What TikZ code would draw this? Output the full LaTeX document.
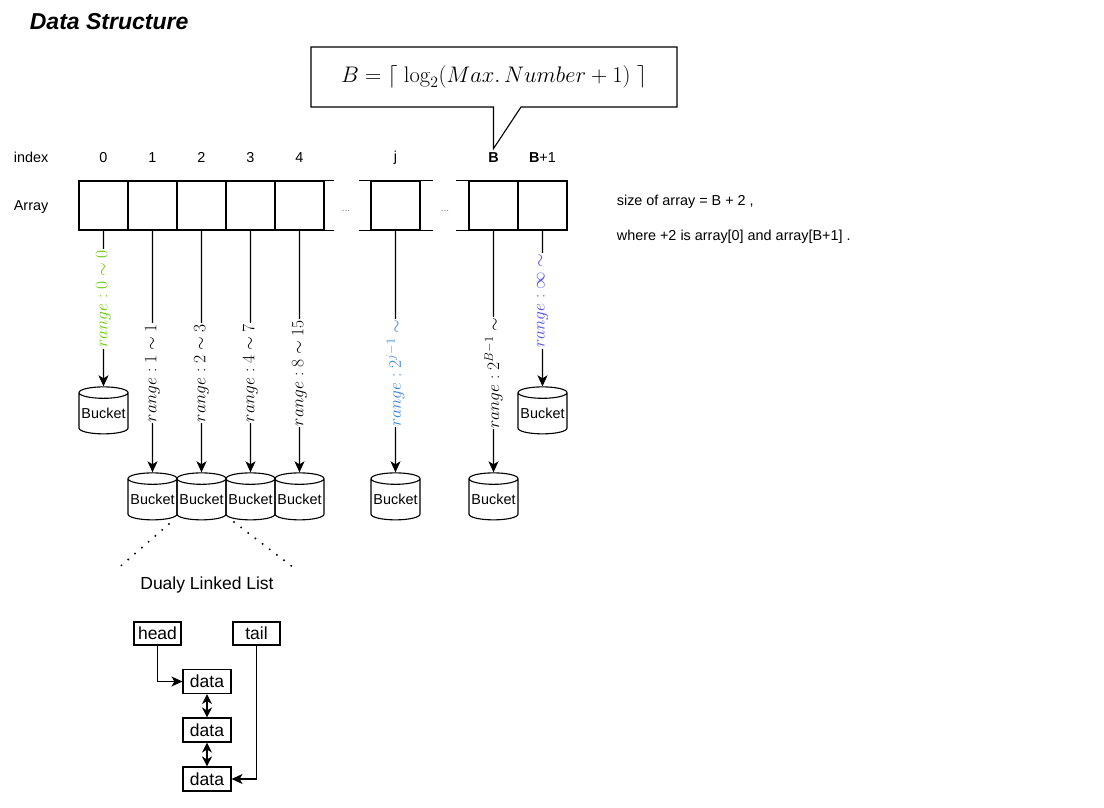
\RequirePackage{fix-cm}
\documentclass[tikz,border=0pt]{standalone}
\usepackage[no-math]{fontspec}
\setmainfont{Liberation Sans}
\usetikzlibrary{shapes.geometric,arrows.meta}
\definecolor{rgreen}{RGB}{102,204,0}
\definecolor{rblue}{RGB}{51,133,230}
\definecolor{rviolet}{RGB}{77,77,255}
\tikzset{x=1pt, y=-1pt,
    cell/.style={draw, minimum width=49pt, minimum height=49pt, inner sep=0pt},
    bucket/.style={draw, cylinder, shape border rotate=90, aspect=0.26,
        minimum width=49pt, minimum height=47pt, inner sep=0pt,
        font=\fontsize{14.4}{16}\selectfont},
    idx/.style={font=\fontsize{14.4}{16}\selectfont},
    rng/.style={rotate=90, fill=white, inner sep=1pt, font=\fontsize{17.5}{20}\selectfont},
    listbox/.style={draw, minimum width=48pt, minimum height=24pt, inner sep=0pt,
        font=\fontsize{17.5}{20}\selectfont},
    ptr/.style={-{Stealth[length=11pt,width=10pt,inset=3pt]}},
    dptr/.style={{Stealth[length=10pt,width=10pt,inset=3pt]}-{Stealth[length=10pt,width=10pt,inset=3pt]}},
    dotline/.style={line width=2.2pt, line cap=round, dash pattern=on 0pt off 9pt},
    }
\begin{document}
\begin{tikzpicture}[line width=1.1pt]
\useasboundingbox (0,0) rectangle (1104,807);
\node[anchor=west, font=\bfseries\itshape\fontsize{23}{27}\selectfont] (title) at (26,22) {Data Structure};
\node[idx, anchor=west] (lindex) at (10,157) {index};
\node[idx, anchor=west] (larray) at (10,207) {Array};
% array
\foreach \n/\x in {0/103.5,1/152.5,2/201.5,3/250.5,4/299.5,j/395.5,B/493.5,B1/542.5}
    \node[cell] (c\n) at (\x,205.5) {};
\foreach \n/\lbl in {0/0,1/1,2/2,3/3,4/4,j/j,B/\textbf{B},B1/\textbf{B}+1}
    \path (c\n.north) ++(0,-23) node[idx] (i\n) {\lbl};
\draw (c4.north east) -- ++(9,0) (c4.south east) -- ++(9,0);
\draw (cj.north west) -- ++(-11,0) (cj.south west) -- ++(-11,0)
      (cj.north east) -- ++(12,0) (cj.south east) -- ++(12,0);
\draw (cB.north west) -- ++(-12,0) (cB.south west) -- ++(-12,0);
\node[font=\fontsize{10}{12}\selectfont, text=gray] (dots1) at (346,211) {...};
\node[font=\fontsize{10}{12}\selectfont, text=gray] (dots2) at (445,211) {...};
% callout
\node[font=\fontsize{22.5}{26}\selectfont] (formula) at (494,77) {$B=\lceil\ \log_2(Max.\,Number+1)\ \rceil$};
\draw (311,47) -| (677,107) -- (521,107) -- (iB.north) -- (iB.north |- 0,107) -- (311,107) -- cycle;
% buckets
\node[bucket] (b0) at (103.5,413.5) {Bucket};
\node[bucket] (bB1) at (542.5,413.5) {Bucket};
\foreach \n in {1,2,3,4,j,B}
    \node[bucket] (b\n) at (c\n |- 0,499.5) {Bucket};
\draw[ptr] (c0) -- node[rng, text=rgreen, pos=0.44] (r0) {$range:0\sim0$} (b0);
\draw[ptr] (c1) -- node[rng, pos=0.59] (r1) {$range:1\sim1$} (b1);
\draw[ptr] (c2) -- node[rng, pos=0.59] (r2) {$range:2\sim3$} (b2);
\draw[ptr] (c3) -- node[rng, pos=0.59] (r3) {$range:4\sim7$} (b3);
\draw[ptr] (c4) -- node[rng, pos=0.59] (r4) {$range:8\sim15$} (b4);
\draw[ptr] (cj) -- node[rng, text=rblue, pos=0.59] (rj) {$range:2^{j-1}\sim$} (bj);
\draw[ptr] (cB) -- node[rng, pos=0.59] (rB) {$range:2^{B-1}\sim$} (bB);
\draw[ptr] (cB1) -- node[rng, text=rviolet, pos=0.45] (rB1) {$range:\infty\sim$} (bB1);
% list
\coordinate (dA) at (169,524);
\coordinate (dB) at (115,571);
\coordinate (dC) at (234,522);
\coordinate (dD) at (298,571);
\draw[dotline] (dA) -- (dB);
\draw[dotline] (dC) -- (dD);
\node[font=\fontsize{17.5}{20}\selectfont] (dll) at (207,585) {Dualy Linked List};
\node[listbox, minimum width=47pt, minimum height=23pt] (head) at (157.5,633.5) {head};
\node[listbox, minimum width=47pt, minimum height=23pt] (tail) at (256.5,633.5) {tail};
\node[listbox] (d1) at (207,681.5) {data};
\node[listbox] (d2) at (207,730) {data};
\node[listbox] (d3) at (207,779) {data};
\draw[ptr] (head.south) |- (d1.west);
\draw[ptr] (tail.south) |- (d3.east);
\draw[dptr] (d1) -- (d2);
\draw[dptr] (d2) -- (d3);
% note
\node[idx, anchor=west] (size) at (613,202) {size of array = B + 2 ,};
\node[idx, anchor=west] (where) at (613,237) {where +2 is array[0] and array[B+1] .};
\end{tikzpicture}
\end{document}
